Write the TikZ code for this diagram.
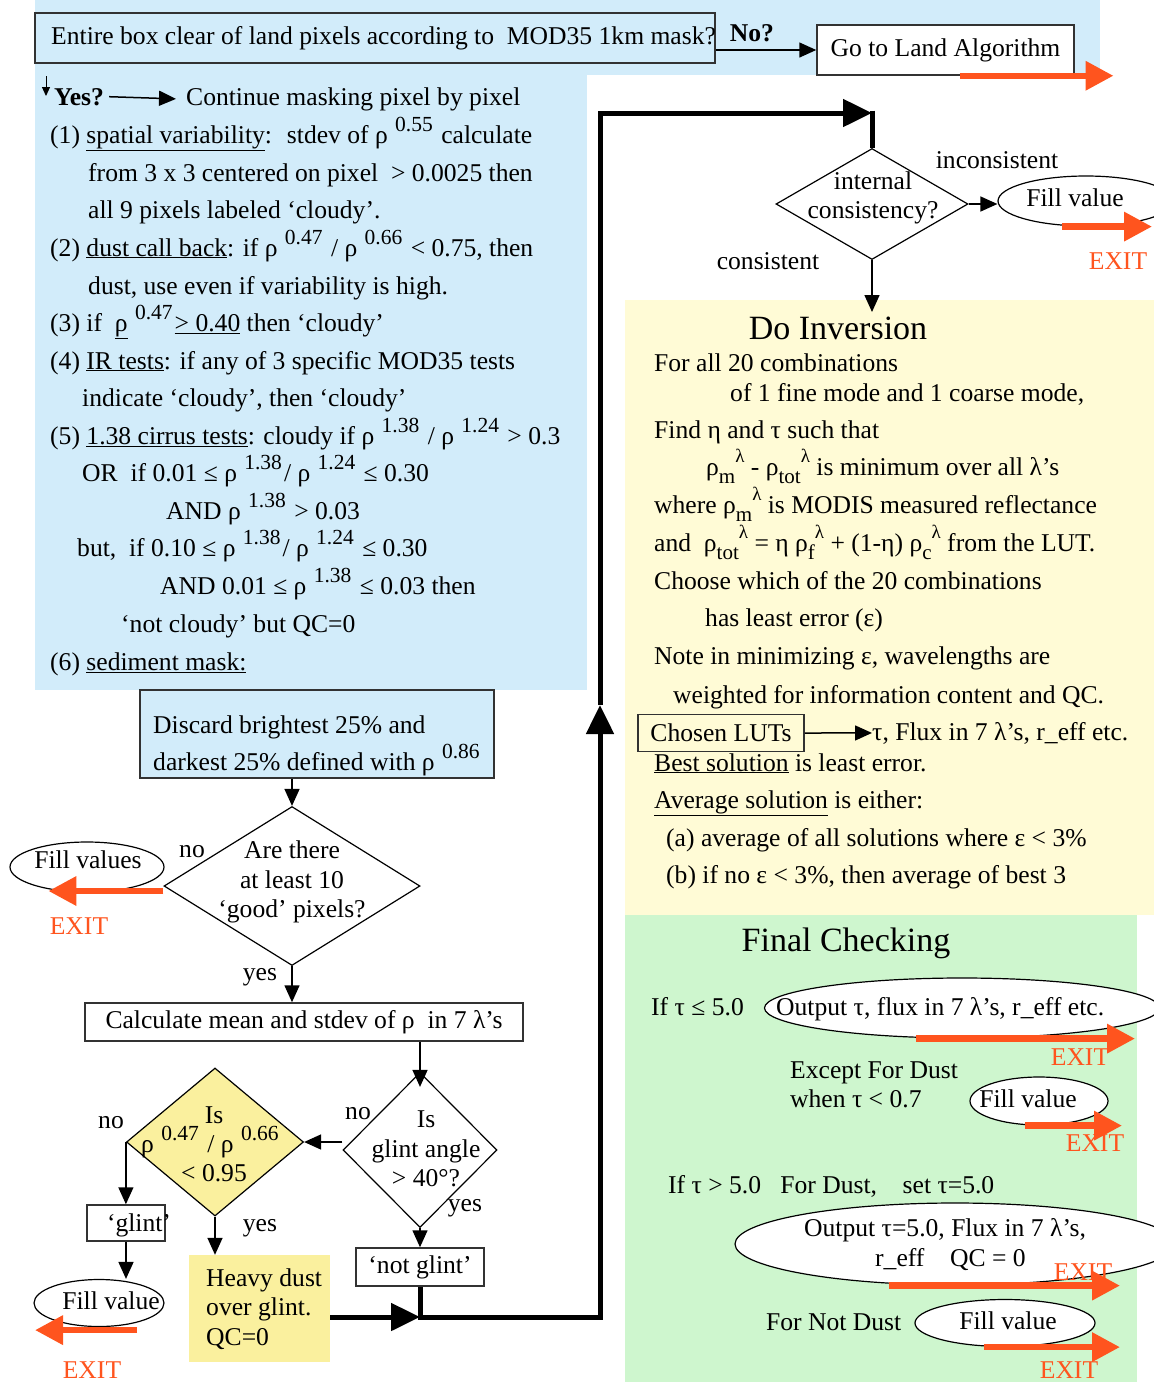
\documentclass[tikz,border=0pt]{standalone}
\usepackage{fontspec}
\setmainfont{Liberation Serif}
\usetikzlibrary{shapes.geometric,arrows.meta}

\definecolor{maskblue}{RGB}{210,236,250}
\definecolor{invyellow}{RGB}{255,251,214}
\definecolor{checkgreen}{RGB}{206,246,206}
\definecolor{dustyellow}{RGB}{250,240,158}
\definecolor{exitorange}{RGB}{255,84,30}
\definecolor{boxgray}{RGB}{50,50,50}

\newcommand\basefont{\fontsize{25.6}{29.5}\selectfont}
\newcommand\headfont{\fontsize{34}{40}\selectfont}
\newcommand\sps[1]{\hspace{0.12em}\raisebox{0.45em}{\fontsize{21.5}{21.5}\selectfont #1}\hspace{0.08em}}
\newcommand\sbs[1]{\raisebox{-0.32em}{\fontsize{21}{21}\selectfont #1}}
\newcommand\rhosl[2]{ρ\sbs{#1}\raisebox{0.5em}{\fontsize{19}{19}\selectfont #2}}

\tikzset{
  ln/.style={anchor=base west, inner sep=0pt},
  ctr/.style={inner sep=0pt, align=center},
  boxnode/.style={draw=boxgray, line width=1.5pt, inner sep=0pt},
  decide/.style={draw=black, diamond, line width=1.2pt, inner sep=0pt},
  oval/.style={draw=black, ellipse, line width=1.2pt, fill=white, inner sep=0pt},
  arr/.style={line width=1.5pt, -{Triangle[length=17pt,width=15pt]}},
  bigarr/.style={line width=5pt, -{Triangle[length=29pt,width=27pt]}},
  exitarr/.style={draw=exitorange, line width=6.5pt, -{Triangle[length=28pt,width=28pt]}},
  exitlbl/.style={text=exitorange, inner sep=0pt},
}

\begin{document}
\begin{tikzpicture}[x=1pt,y=-1pt,font=\basefont]
\useasboundingbox (0,0) rectangle (1154,1382);
\clip (0,0) rectangle (1154,1382);

% panels
\fill[maskblue] (35,0) rectangle (1100,75);
\fill[maskblue] (35,0) rectangle (587,690);
\fill[invyellow] (625,300) rectangle (1154,915);
\fill[checkgreen] (625,915) rectangle (1137,1382);

% land / ocean test
\node[boxnode, fill=maskblue, minimum width=680pt, minimum height=50pt] (clearbox) at (375,38) {};
\node[ln] (cleartxt) at (51,44) {Entire box clear of land pixels according to \ MOD35 1km mask?};
\node[ctr] (no) at (752,33) {\textbf{No?}};
\node[boxnode, fill=white, minimum width=257pt, minimum height=50pt] (landbox) at (945.5,50) {Go to Land Algorithm};
\draw[arr] (clearbox.east |- landbox.west) -- (landbox.west);
\draw[exitarr] ([xshift=14pt]landbox.south) -- ++(154,0);

% cloud masking
\coordinate (yesdrop) at (46,76);
\draw[line width=1pt, -{Triangle[length=9pt,width=8pt]}] (yesdrop) -- ++(0,20);
\node[ln] (yes) at (54,105) {\textbf{Yes?}};
\node[ln] (cont) at (186,105) {Continue masking pixel by pixel};
\draw[arr] ([xshift=5pt]yes.east) -- ([xshift=-10pt]cont.west);
\node[ln] (m1a) at (50,143) {(1) \underline{spatial variability}: \ stdev of ρ\,\sps{0.55} calculate};
\node[ln] (m1b) at (88,181) {from 3 x 3 centered on pixel \ > 0.0025 then};
\node[ln] (m1c) at (88,218) {all 9 pixels labeled ‘cloudy’.};
\node[ln] (m2a) at (50,256) {(2) \underline{dust call back}: if ρ\,\sps{0.47} / ρ\,\sps{0.66} < 0.75, then};
\node[ln] (m2b) at (88,294) {dust, use even if variability is high.};
\node[ln] (m3) at (50,331) {(3) if \ \underline{ρ}\,\sps{0.47}\underline{> 0.40} then ‘cloudy’};
\node[ln] (m4a) at (50,369) {(4) \underline{IR tests}: if any of 3 specific MOD35 tests};
\node[ln] (m4b) at (82,406) {indicate ‘cloudy’, then ‘cloudy’};
\node[ln] (m5a) at (50,444) {(5) \underline{1.38 cirrus tests}: cloudy if ρ\,\sps{1.38} / ρ\,\sps{1.24} > 0.3};
\node[ln] (m5b) at (82,481) {OR \ if 0.01 ≤ ρ\,\sps{1.38}/ ρ\,\sps{1.24} ≤ 0.30};
\node[ln] (m5c) at (166,519) {AND ρ\,\sps{1.38} > 0.03};
\node[ln] (m5d) at (77,556) {but, \ if 0.10 ≤ ρ\,\sps{1.38}/ ρ\,\sps{1.24} ≤ 0.30};
\node[ln] (m5e) at (160,594) {AND 0.01 ≤ ρ\,\sps{1.38} ≤ 0.03 then};
\node[ln] (m5f) at (121,632) {‘not cloudy’ but QC=0};
\node[ln] (m6) at (50,670) {(6) \underline{sediment mask:}};

% sediment mask and pixel count
\node[boxnode, fill=maskblue, minimum width=354pt, minimum height=88pt] (discard) at (317,734) {};
\node[ln] (disc1) at (153,733) {Discard brightest 25\% and};
\node[ln] (disc2) at (153,770) {darkest 25\% defined with ρ\,\sps{0.86}};
\node[decide, fill=white, minimum width=256pt, minimum height=159pt] (goodpx) at (292,886) {};
\node[ctr] (goodtxt) at (292,882) {Are there\\at least 10\\‘good’ pixels?};
\draw[arr] (discard.south -| goodpx.north) -- (goodpx.north);
\node[oval, minimum width=154pt, minimum height=50pt] (fillA) at (87,867) {};
\node[ctr] (fillAtxt) at (88,860) {Fill values};
\draw[exitarr] ([yshift=-5pt]goodpx.west) -- ++(-115,0);
\node[exitlbl] (exitA) at (79,926) {EXIT};
\node (noA) at (192,852) {no};
\node (yesA) at (260,977) {yes};
\node[boxnode, fill=white, minimum width=438pt, minimum height=38pt] (calc) at (304,1022) {Calculate mean and stdev of ρ \ in 7 λ’s};
\draw[arr] (goodpx.south) -- (goodpx.south |- calc.north);

% glint tests
\node[decide, fill=white, minimum width=154pt, minimum height=155pt] (glint) at (420,1150) {};
\node[ctr] (glinttxt) at (426,1149) {Is\\glint angle\\> 40°?};
\draw[arr] (calc.south -| glint.north) -- ([yshift=-15pt]glint.north);
\node[decide, fill=dustyellow, minimum width=177pt, minimum height=148pt] (ratio) at (215,1142) {};
\node[ctr] (ratio1) at (214,1115) {Is};
\node[ln] (ratio2) at (141,1152) {ρ\,\sps{0.47} / ρ\,\sps{0.66}};
\node[ctr] (ratio3) at (214,1173) {< 0.95};
\draw[arr] (glint.west |- ratio.east) -- (ratio.east);
\node (noB) at (358,1114) {no};
\node (yesB) at (465,1208) {yes};
\node (noC) at (111,1123) {no};
\node (yesC) at (260,1228) {yes};
\node[boxnode, fill=white, minimum width=78pt, minimum height=36pt] (glintbox) at (126,1223) {};
\node[ctr] (glintlbl) at (139,1225) {‘glint’};
\draw[arr] (ratio.west) -- (ratio.west |- glintbox.north);
\node[oval, minimum width=130pt, minimum height=47pt] (fillB) at (99,1303) {};
\node[ctr] (fillBtxt) at (111,1301) {Fill value};
\draw[arr] (glintbox.south) -- (glintbox.south |- fillB.north);
\draw[exitarr] ([xshift=38pt,yshift=-3pt]fillB.south) -- ++(-102,0);
\node[exitlbl] (exitB) at (92,1370) {EXIT};
\node[fill=dustyellow, minimum width=141pt, minimum height=107pt, inner sep=0pt] (dust) at (259.5,1308.5) {};
\node[ln] (dust1) at (206,1286) {Heavy dust};
\node[ln] (dust2) at (206,1315) {over glint.};
\node[ln] (dust3) at (206,1345) {QC=0};
\draw[arr] (ratio.south) -- (ratio.south |- dust.north);
\node[boxnode, fill=white, minimum width=128pt, minimum height=38pt] (notglint) at (420,1267) {‘not glint’};
\draw[arr] (glint.south) -- (notglint.north);

% return path to inversion
\coordinate (merge) at (420,1317);
\coordinate (riser) at (600,705);
\coordinate (topturn) at (600,113);
\coordinate (consisttop) at (872,110.5);
\node[decide, fill=white, minimum width=192pt, minimum height=111pt] (consist) at (872,204) {};
\draw[bigarr] (dust.east |- merge) -- (merge);
\draw[bigarr] (notglint.south) -- (merge) -- (merge -| riser) -- (riser);
\draw[line width=5pt] (consisttop) -- (consist.north);
\draw[bigarr] (riser) -- (topturn) -- (topturn -| consist.north);

% consistency check
\node[ctr] (consisttxt) at (873,198) {internal\\consistency?};
\node (inc) at (997,160) {inconsistent};
\node (cons) at (768,261) {consistent};
\node[oval, minimum width=176pt, minimum height=50pt] (fillC) at (1086,201) {};
\node[ctr] (fillCtxt) at (1075,198) {Fill value};
\draw[arr] (consist.east) -- (consist.east -| fillC.west);
\draw[exitarr] ([xshift=-24pt]fillC.south) -- ++(90,0);
\node[exitlbl] (exitC) at (1118,261) {EXIT};
\coordinate (invtop) at (872,312);
\draw[arr] (consist.south) -- (invtop);

% inversion
\node[font=\headfont] (invhead) at (838,328) {Do Inversion};
\node[ln] (inv1) at (654,371) {For all 20 combinations};
\node[ln] (inv2) at (730,401) {of 1 fine mode and 1 coarse mode,};
\node[ln] (inv3) at (654,438) {Find η and τ such that};
\node[ln] (inv4) at (706,475) {\rhosl{m}{λ} - \rhosl{tot}{λ} is minimum over all λ’s};
\node[ln] (inv5) at (654,513) {where \rhosl{m}{λ} is MODIS measured reflectance};
\node[ln] (inv6) at (654,551) {and \ \rhosl{tot}{λ} = η \rhosl{f}{λ} + (1-η) \rhosl{c}{λ} from the LUT.};
\node[ln] (inv7) at (654,589) {Choose which of the 20 combinations};
\node[ln] (inv8) at (705,626) {has least error (ε)};
\node[ln] (inv9) at (654,664) {Note in minimizing ε, wavelengths are};
\node[ln] (inv10) at (673,703) {weighted for information content and QC.};
\node[boxnode, minimum width=166pt, minimum height=37pt] (lutbox) at (721,733) {Chosen LUTs};
\node[ln] (lutres) at (872,740) {τ, Flux in 7 λ’s, r\_eff etc.};
\draw[arr] (lutbox.east) -- (lutres.west);
\node[ln] (inv11) at (654,771) {\underline{Best solution} is least error.};
\node[ln] (inv12) at (654,808) {\underline{Average solution} is either:};
\node[ln] (inv13) at (666,846) {(a) average of all solutions where ε < 3\%};
\node[ln] (inv14) at (666,883) {(b) if no ε < 3\%, then average of best 3};

% final checking
\node[font=\headfont] (chkhead) at (846,943) {Final Checking};
\node[ln] (chk1) at (651,1015) {If τ ≤ 5.0};
\node[oval, minimum width=395pt, minimum height=60pt] (outA) at (962,1008) {};
\node[ln] (outAtxt) at (776,1015) {Output τ, flux in 7 λ’s, r\_eff etc.};
\draw[exitarr] ([xshift=-46pt]outA.south) -- ++(219,0);
\node[exitlbl] (exitD) at (1080,1057) {EXIT};
\node[ln] (chk2) at (790,1078) {Except For Dust};
\node[ln] (chk3) at (790,1107) {when τ < 0.7};
\node[oval, minimum width=138pt, minimum height=48pt] (fillD) at (1039,1101) {};
\node[ctr] (fillDtxt) at (1028,1099) {Fill value};
\draw[exitarr] ([xshift=-14pt]fillD.south) -- ++(97,0);
\node[exitlbl] (exitE) at (1095,1143) {EXIT};
\node[ln] (chk4) at (668,1193) {If τ > 5.0 \ \ For Dust, \ \ \ set τ=5.0};
\node[oval, minimum width=440pt, minimum height=82pt] (outB) at (955,1244) {};
\node[ln] (outB1) at (804,1236) {Output τ=5.0, Flux in 7 λ’s,};
\node[ln] (outB2) at (875,1266) {r\_eff \ \ \ QC = 0};
\node[exitlbl] (exitF) at (1083,1272) {EXIT};
\draw[exitarr] ([xshift=-66pt]outB.south) -- ++(231,0);
\node[ln] (chk5) at (766,1330) {For Not Dust};
\node[oval, minimum width=180pt, minimum height=47pt] (fillE) at (1005,1323) {};
\node[ctr] (fillEtxt) at (1008,1321) {Fill value};
\draw[exitarr] ([xshift=-21pt]fillE.south) -- ++(136,0);
\node[exitlbl] (exitG) at (1069,1370) {EXIT};
\end{tikzpicture}
\end{document}
